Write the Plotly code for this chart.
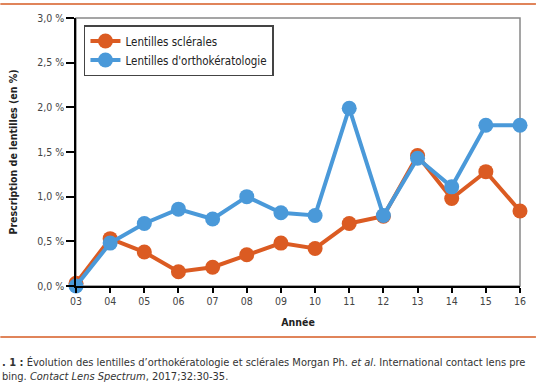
import plotly.graph_objects as go

annees = ["03", "04", "05", "06", "07", "08", "09", "10", "11", "12", "13", "14", "15", "16"]
sclerales = [0.03, 0.53, 0.38, 0.16, 0.21, 0.35, 0.48, 0.42, 0.70, 0.78, 1.46, 0.98, 1.28, 0.84]
ortho = [0.00, 0.48, 0.70, 0.86, 0.75, 1.00, 0.82, 0.79, 1.99, 0.79, 1.43, 1.11, 1.80, 1.80]
yticks = [0, 0.5, 1.0, 1.5, 2.0, 2.5, 3.0]
ytick_labels = ["0,0 %", "0,5 %", "1,0 %", "1,5 %", "2,0 %", "2,5 %", "3,0 %"]

ORANGE = "#DB5B22"
BLUE = "#4A99D9"
FONT = "DejaVu Sans Condensed, Roboto, sans-serif"

xs = list(range(len(annees)))

fig = go.Figure()
fig.add_trace(go.Scatter(x=xs, y=sclerales, mode="lines+markers", name="Lentilles sclérales",
                         line=dict(color=ORANGE, width=4), marker=dict(color=ORANGE, size=15),
                         cliponaxis=False))
fig.add_trace(go.Scatter(x=xs, y=ortho, mode="lines+markers", name="Lentilles d'orthokératologie",
                         line=dict(color=BLUE, width=4), marker=dict(color=BLUE, size=15),
                         cliponaxis=False))

W, H = 538, 384
L, R, T, B = 76, 16, 18, 98
pw, ph = W - L - R, H - T - B

def px_x(p):
    return (p - L) / pw

def px_y(p):
    return (H - B - p) / ph

shapes = [
    dict(type="rect", xref="paper", yref="paper", x0=0, x1=1, y0=0, y1=1,
         line=dict(color="#888888", width=1.5), layer="below"),
    dict(type="line", xref="paper", yref="paper", x0=px_x(0), x1=px_x(W), y0=px_y(4), y1=px_y(4),
         line=dict(color="#E0845A", width=2)),
    dict(type="line", xref="paper", yref="paper", x0=px_x(0), x1=px_x(W), y0=px_y(337), y1=px_y(337),
         line=dict(color="#E0845A", width=2)),
]

annotations = [
    dict(xref="paper", yref="paper", x=px_x(0), y=px_y(362), xanchor="left", yanchor="middle",
         showarrow=False, align="left",
         text="<b>. 1 :</b> Évolution des lentilles d’orthokératologie et sclérales Morgan Ph. <i>et al</i>. International contact lens pre",
         font=dict(family=FONT, size=11, color="#333333")),
    dict(xref="paper", yref="paper", x=px_x(0), y=px_y(376), xanchor="left", yanchor="middle",
         showarrow=False, align="left",
         text="bing. <i>Contact Lens Spectrum</i>, 2017;32:30-35.",
         font=dict(family=FONT, size=11, color="#333333")),
]

fig.update_layout(
    width=W, height=H,
    margin=dict(l=L, r=R, t=T, b=B, pad=0),
    paper_bgcolor="white", plot_bgcolor="white",
    font=dict(family=FONT, size=10, color="#444444"),
    showlegend=True,
    legend=dict(x=px_x(84), y=px_y(25), xanchor="left", yanchor="top",
                bgcolor="white", bordercolor="#444444", borderwidth=1.5,
                font=dict(family=FONT, size=11.5, color="#222222"),
                itemwidth=30, tracegroupgap=0),
    shapes=shapes,
    annotations=annotations,
)

fig.update_xaxes(range=[0, 13], tickmode="array", tickvals=xs, ticktext=annees,
                 showgrid=False, zeroline=False, showline=True, linecolor="black", linewidth=1.5,
                 ticks="outside", ticklen=5, tickcolor="black", tickwidth=1.5,
                 tickfont=dict(family=FONT, size=10.5, color="#444444"),
                 title=dict(text="<b>Année</b>", font=dict(family=FONT, size=10.5, color="#222222"), standoff=12))
fig.update_yaxes(range=[0, 3], tickmode="array", tickvals=yticks, ticktext=ytick_labels,
                 showgrid=False, zeroline=False, showline=True, linecolor="black", linewidth=1.5,
                 ticks="outside", ticklen=8, tickcolor="black", tickwidth=1.5,
                 tickfont=dict(family=FONT, size=10.5, color="#444444"),
                 title=dict(text="<b>Prescription de lentilles (en %)</b>",
                            font=dict(family=FONT, size=10.5, color="#222222"), standoff=17))

fig.write_html("out.html", config={"displayModeBar": False},
               post_script="document.body.style.margin='0px';document.body.style.overflow='hidden';")
